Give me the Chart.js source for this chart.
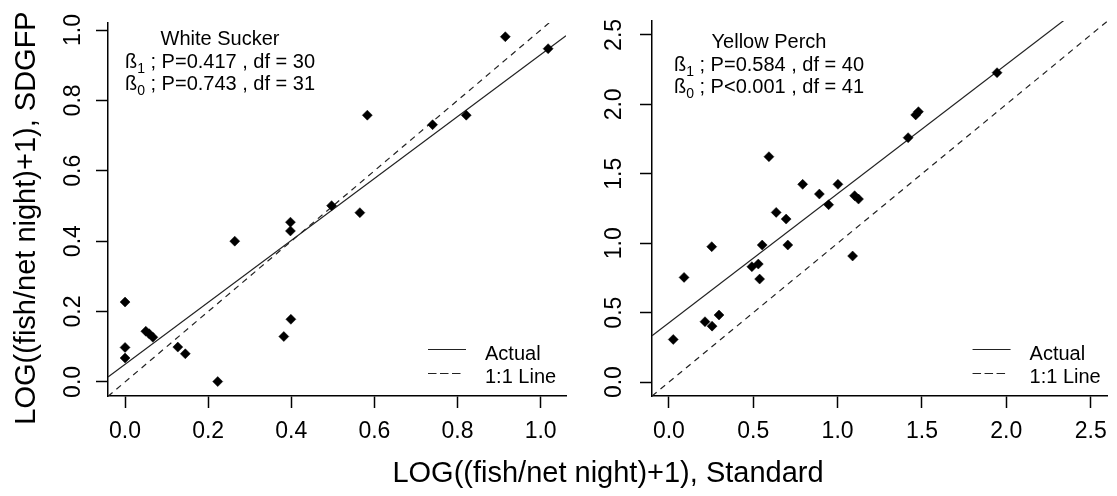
<!DOCTYPE html>
<html>
<head>
<meta charset="utf-8">
<script src="https://cdn.jsdelivr.net/npm/chart.js@4.4.1/dist/chart.umd.min.js"></script>
<style>
    html, body { margin: 0; padding: 0; background: #fff; }
    #wrap { position: relative; width: 1117px; height: 496px; }
    #wrap canvas { position: absolute; left: 0; top: 0; }
</style>
</head>
<body>
<div id="wrap">
    <canvas id="wsChart" width="1117" height="496"></canvas>
    <canvas id="ypChart" width="1117" height="496"></canvas>
</div>
<script>
// White Sucker: LOG((fish/net night)+1), standard vs SDGFP
const wsStandard = [0, 0, 0, 0.050, 0.058, 0.067, 0.127, 0.145, 0.223, 0.264, 0.382, 0.399, 0.398, 0.398, 0.497, 0.565, 0.583, 0.740, 0.821, 0.915, 1.018];
const wsSdgfp    = [0.227, 0.098, 0.068, 0.144, 0.137, 0.127, 0.099, 0.080, 0.001, 0.400, 0.129, 0.178, 0.454, 0.429, 0.501, 0.481, 0.758, 0.731, 0.758, 0.981, 0.947];
const wsFit = [0.05, 0.88];            // intercept, slope
const wsTicks = [0, 0.2, 0.4, 0.6, 0.8, 1.0];
const wsRangeX = [-0.041, 1.061];
const wsRangeY = [-0.04, 1.02];
const wsText = ['White Sucker', ['1', ' ; P=0.417 , df = 30'], ['0', ' ; P=0.743 , df = 31']];

// Yellow Perch
const ypStandard = [0.026, 0.090, 0.214, 0.256, 0.297, 0.254, 0.492, 0.530, 0.538, 0.553, 0.593, 0.636, 0.695, 0.705, 0.793, 0.892, 0.947, 1.002, 1.089, 1.101, 1.124, 1.418, 1.463, 1.479, 1.945];
const ypSdgfp    = [0.307, 0.754, 0.435, 0.403, 0.483, 0.975, 0.831, 0.850, 0.742, 0.987, 1.623, 1.222, 1.174, 0.987, 1.424, 1.354, 1.277, 1.424, 0.908, 1.342, 1.318, 1.760, 1.924, 1.947, 2.228];
const ypFit = [0.427, 0.93];
const ypTicks = [0, 0.5, 1.0, 1.5, 2.0, 2.5];
const ypRange = [-0.1, 2.6];
const ypText = ['Yellow Perch', ['1', ' ; P=0.584 , df = 40'], ['0', ' ; P<0.001 , df = 41']];

const legendLabels = ['Actual', '1:1 Line'];
const xTitle = 'LOG((fish/net night)+1), Standard';
const yTitle = 'LOG((fish/net night)+1), SDGFP';

const FONT = "'Liberation Sans', Arial, sans-serif";
Chart.defaults.font.family = FONT;
Chart.defaults.color = '#000';

function lineData(fit, range) {
    return range.map(x => ({ x: x, y: fit[0] + fit[1] * x }));
}

// text, legend, rotated y labels drawn on the canvas
function overlay(p) {
    return {
        id: 'overlay',
        afterDraw(chart) {
            const c = chart.ctx;
            const area = chart.chartArea;
            const ys = chart.scales.y;
            c.save();
            c.fillStyle = '#000';

            // y tick labels, parallel to the axis
            c.font = '23px ' + FONT;
            c.textAlign = 'center';
            c.textBaseline = 'alphabetic';
            ys.ticks.forEach(t => {
                c.save();
                c.translate(p.yLabelX, ys.getPixelForValue(t.value));
                c.rotate(-Math.PI / 2);
                c.fillText(t.value.toFixed(1), 0, 0);
                c.restore();
            });

            // species + test results
            const cx = area.left + p.textDx;
            c.font = '20px ' + FONT;
            c.fillText(p.text[0], cx, p.textY);
            [1, 2].forEach(i => {
                const parts = p.text[i];
                c.font = '20px ' + FONT;
                const wB = c.measureText('ß').width;
                const wR = c.measureText(parts[1]).width;
                c.font = '14px ' + FONT;
                const wS = c.measureText(parts[0]).width;
                let x = cx - (wB + wS + wR) / 2;
                const y = p.textY + i * 22.5;
                c.textAlign = 'left';
                c.font = '20px ' + FONT;
                c.fillText('ß', x, y);
                x += wB;
                c.font = '14px ' + FONT;
                c.fillText(parts[0], x, y + 5);
                x += wS;
                c.font = '20px ' + FONT;
                c.fillText(parts[1], x, y);
                c.textAlign = 'center';
            });

            // legend
            const lx = area.right - p.legendDx;
            c.strokeStyle = '#222';
            c.lineWidth = 1.2;
            c.beginPath();
            c.moveTo(lx, 349.5); c.lineTo(lx + 38, 349.5);
            c.stroke();
            c.setLineDash([8.5, 3.5]);
            c.beginPath();
            c.moveTo(lx, 373.5); c.lineTo(lx + 32.5, 373.5);
            c.stroke();
            c.setLineDash([]);
            c.textAlign = 'left';
            c.font = '20px ' + FONT;
            c.fillText(legendLabels[0], lx + 57, 360);
            c.fillText(legendLabels[1], lx + 57, 383);

            // shared axis titles
            if (p.titles) {
                c.font = '29px ' + FONT;
                c.textAlign = 'center';
                c.fillText(xTitle, 608, 482);
                c.save();
                c.translate(35, 218);
                c.rotate(-Math.PI / 2);
                c.fillText(yTitle, 0, 0);
                c.restore();
            }
            c.restore();
        }
    };
}

function makeChart(id, p) {
    const setTicks = s => { s.ticks = p.ticks.map(v => ({ value: v })); };
    return new Chart(document.getElementById(id), {
        type: 'scatter',
        data: {
            datasets: [
                {
                    data: p.xs.map((x, i) => ({ x: x, y: p.ys[i] })),
                    pointStyle: 'rectRot',
                    pointRadius: 5,
                    pointBackgroundColor: '#000',
                    pointBorderColor: '#000',
                    pointBorderWidth: 0.5
                },
                {
                    data: lineData(p.fit, p.rangeX),
                    showLine: true, pointRadius: 0,
                    borderColor: '#222', borderWidth: 1.2
                },
                {
                    data: lineData([0, 1], p.rangeX),
                    showLine: true, pointRadius: 0,
                    borderColor: '#222', borderWidth: 1.2, borderDash: [6, 5]
                }
            ]
        },
        options: {
            responsive: false,
            animation: false,
            events: [],
            layout: { padding: p.padding },
            plugins: { legend: { display: false }, tooltip: { enabled: false } },
            scales: {
                x: {
                    type: 'linear',
                    min: p.rangeX[0], max: p.rangeX[1],
                    afterBuildTicks: setTicks,
                    afterFit: s => { s.height = 100; },
                    grid: { drawOnChartArea: false, tickLength: 12, tickWidth: 1.5, tickColor: '#000' },
                    border: { color: '#000', width: 1.5 },
                    ticks: { font: { size: 23 }, color: '#000', padding: 10, maxRotation: 0,
                             callback: v => v.toFixed(1) }
                },
                y: {
                    type: 'linear',
                    min: p.rangeY[0], max: p.rangeY[1],
                    afterBuildTicks: setTicks,
                    afterFit: s => { s.width = p.yWidth; },
                    grid: { drawOnChartArea: false, tickLength: 12, tickWidth: 1.5, tickColor: '#000' },
                    border: { color: '#000', width: 1.5 },
                    ticks: { display: false }
                }
            }
        },
        plugins: [overlay(p)]
    });
}

makeChart('wsChart', {
    xs: wsStandard, ys: wsSdgfp, fit: wsFit, ticks: wsTicks,
    rangeX: wsRangeX, rangeY: wsRangeY, text: wsText,
    padding: { top: 23, right: 551, bottom: 0, left: 0 }, yWidth: 108,
    yLabelX: 80, textDx: 112, textY: 45, legendDx: 138, titles: true
});

makeChart('ypChart', {
    xs: ypStandard, ys: ypSdgfp, fit: ypFit, ticks: ypTicks,
    rangeX: ypRange, rangeY: ypRange, text: ypText,
    padding: { top: 21, right: 9, bottom: 0, left: 600 }, yWidth: 52,
    yLabelX: 621, textDx: 117, textY: 48, legendDx: 135, titles: false
});
</script>
</body>
</html>
